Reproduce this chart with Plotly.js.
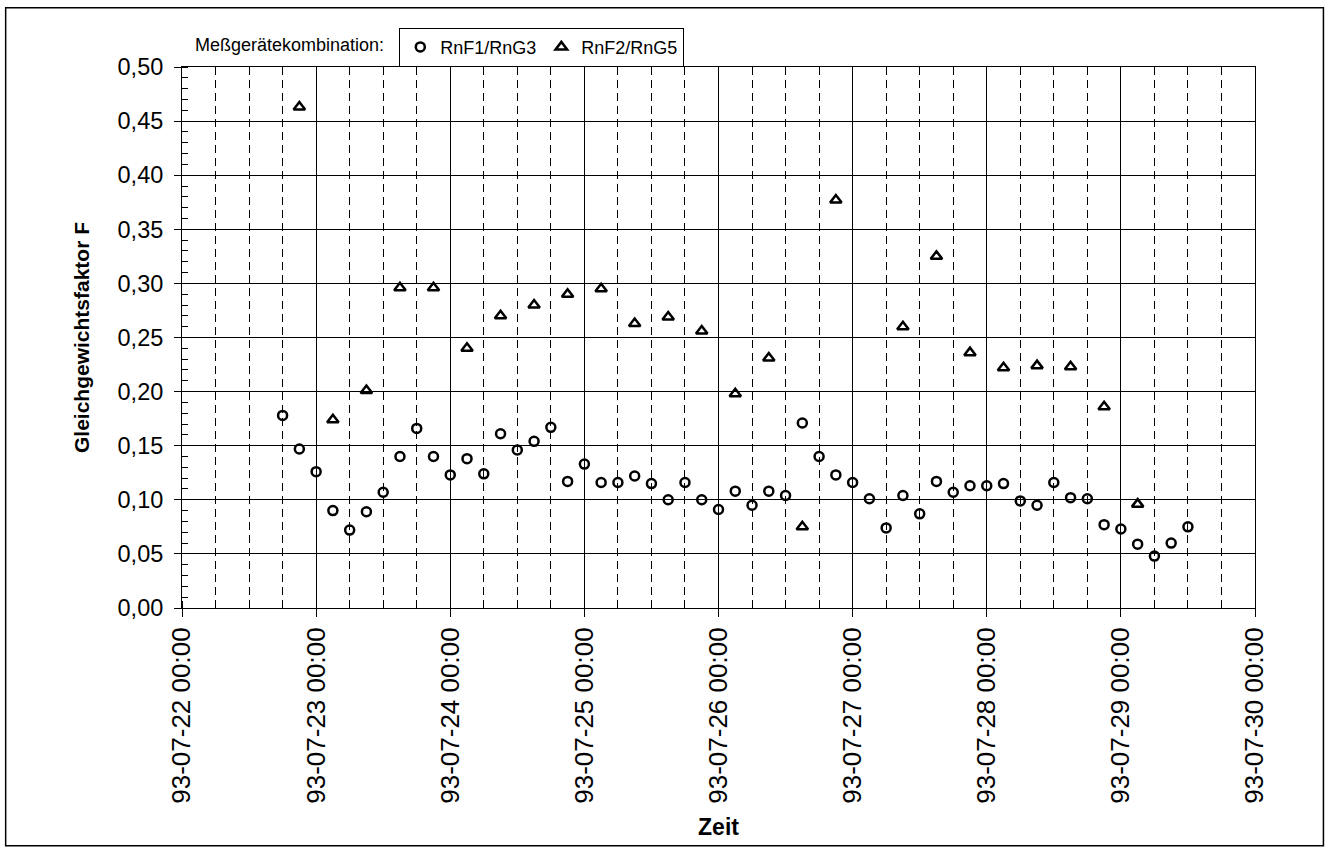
<!DOCTYPE html>
<html>
<head>
<meta charset="utf-8">
<script src="https://cdn.plot.ly/plotly-3.0.1.min.js"></script>
<style>
  html, body { margin: 0; padding: 0; background: #ffffff; }
  #chart { width: 1330px; height: 847px; }
</style>
</head>
<body>
<div id="chart"></div>
<script>
// --- Data -------------------------------------------------------------
// RnF1/RnG3: every 3 hours, 93-07-22 18:00 .. 93-07-29 12:00
const timesA = [
  '1993-07-22 18:00','1993-07-22 21:00',
  '1993-07-23 00:00','1993-07-23 03:00','1993-07-23 06:00','1993-07-23 09:00',
  '1993-07-23 12:00','1993-07-23 15:00','1993-07-23 18:00','1993-07-23 21:00',
  '1993-07-24 00:00','1993-07-24 03:00','1993-07-24 06:00','1993-07-24 09:00',
  '1993-07-24 12:00','1993-07-24 15:00','1993-07-24 18:00','1993-07-24 21:00',
  '1993-07-25 00:00','1993-07-25 03:00','1993-07-25 06:00','1993-07-25 09:00',
  '1993-07-25 12:00','1993-07-25 15:00','1993-07-25 18:00','1993-07-25 21:00',
  '1993-07-26 00:00','1993-07-26 03:00','1993-07-26 06:00','1993-07-26 09:00',
  '1993-07-26 12:00','1993-07-26 15:00','1993-07-26 18:00','1993-07-26 21:00',
  '1993-07-27 00:00','1993-07-27 03:00','1993-07-27 06:00','1993-07-27 09:00',
  '1993-07-27 12:00','1993-07-27 15:00','1993-07-27 18:00','1993-07-27 21:00',
  '1993-07-28 00:00','1993-07-28 03:00','1993-07-28 06:00','1993-07-28 09:00',
  '1993-07-28 12:00','1993-07-28 15:00','1993-07-28 18:00','1993-07-28 21:00',
  '1993-07-29 00:00','1993-07-29 03:00','1993-07-29 06:00','1993-07-29 09:00',
  '1993-07-29 12:00'
];
const valuesA = [
  0.178, 0.147,
  0.126, 0.090, 0.072, 0.089, 0.107, 0.140, 0.166, 0.140,
  0.123, 0.138, 0.124, 0.161, 0.146, 0.154, 0.167, 0.117,
  0.133, 0.116, 0.116, 0.122, 0.115, 0.100, 0.116, 0.100,
  0.091, 0.108, 0.095, 0.108, 0.104, 0.171, 0.140, 0.123,
  0.116, 0.101, 0.074, 0.104, 0.087, 0.117, 0.107, 0.113,
  0.113, 0.115, 0.099, 0.095, 0.116, 0.102, 0.101, 0.077,
  0.073, 0.059, 0.048, 0.060, 0.075
];

// RnF2/RnG5: every 6 hours (03/09/15/21 h), 93-07-22 21:00 .. 93-07-29 03:00
const timesB = [
  '1993-07-22 21:00',
  '1993-07-23 03:00','1993-07-23 09:00','1993-07-23 15:00','1993-07-23 21:00',
  '1993-07-24 03:00','1993-07-24 09:00','1993-07-24 15:00','1993-07-24 21:00',
  '1993-07-25 03:00','1993-07-25 09:00','1993-07-25 15:00','1993-07-25 21:00',
  '1993-07-26 03:00','1993-07-26 09:00','1993-07-26 15:00','1993-07-26 21:00',
  '1993-07-27 09:00','1993-07-27 15:00','1993-07-27 21:00',
  '1993-07-28 03:00','1993-07-28 09:00','1993-07-28 15:00','1993-07-28 21:00',
  '1993-07-29 03:00'
];
const valuesB = [
  0.463,
  0.174, 0.201, 0.296, 0.296,
  0.240, 0.270, 0.280, 0.290,
  0.295, 0.263, 0.269, 0.256,
  0.198, 0.231, 0.075, 0.377,
  0.260, 0.325, 0.236,
  0.222, 0.224, 0.223, 0.186,
  0.096
];

const seriesNames = ['RnF1/RnG3', 'RnF2/RnG5'];
const legendTitle = 'Meßgerätekombination:';
const xTitle = 'Zeit';
const yTitle = 'Gleichgewichtsfaktor F';
const xRange = ['1993-07-22 00:00', '1993-07-30 00:00'];
const yRange = [0, 0.5];

// --- Layout geometry ----------------------------------------------------
const W = 1330, H = 847;
const L = 181.5, R = 1255.5, T = 67.3, B = 608.3;
const pw = R - L, ph = B - T;
const px = v => (v - L) / pw;
const py = v => (B - v) / ph;

const font = 'Liberation Sans, Arial, sans-serif';

const traces = [
  {
    x: timesA, y: valuesA, name: seriesNames[0],
    type: 'scatter', mode: 'markers',
    marker: { symbol: 'circle-open', size: 9, color: '#000', line: { width: 2.5, color: '#000' } }
  },
  {
    x: timesB, y: valuesB, name: seriesNames[1],
    type: 'scatter', mode: 'markers',
    marker: { symbol: 'triangle-up-open', size: 10, color: '#000', line: { width: 2.5, color: '#000' } }
  }
];

const layout = {
  width: W, height: H,
  margin: { l: L, r: W - R, t: T, b: H - B, pad: 0 },
  paper_bgcolor: '#fff', plot_bgcolor: '#fff',
  separators: ',.',
  showlegend: true,
  font: { family: font, color: '#000', size: 22 },
  xaxis: {
    type: 'date', range: xRange, autorange: false,
    tick0: '1993-07-22', dtick: 86400000,
    tickformat: '%y-%m-%d %H:%M', tickangle: -90,
    tickfont: { family: font, size: 26, color: '#000' },
    ticks: 'outside', ticklen: 8, tickwidth: 1, tickcolor: '#000',
    showline: true, linecolor: '#000', linewidth: 1, mirror: true,
    showgrid: true, gridcolor: '#000', gridwidth: 1,
    zeroline: false,
    minor: {
      dtick: 21600000, tick0: '1993-07-22',
      ticks: 'inside', ticklen: 7, tickcolor: '#000', tickwidth: 1,
      showgrid: true, gridcolor: '#000', gridwidth: 1, griddash: '8px,5px'
    },
    title: { text: '<b>' + xTitle + '</b>', font: { family: font, size: 23, color: '#000' }, standoff: 16 },
    automargin: false
  },
  yaxis: {
    range: yRange, autorange: false,
    dtick: 0.05, tick0: 0, tickformat: '.2f',
    tickfont: { family: font, size: 23.5, color: '#000' },
    ticks: 'outside', ticklen: 7, tickwidth: 1, tickcolor: '#000',
    ticklabelstandoff: 6,
    showline: true, linecolor: '#000', linewidth: 1, mirror: true,
    showgrid: true, gridcolor: '#000', gridwidth: 1,
    zeroline: false,
    minor: { dtick: 0.01, tick0: 0, ticks: 'inside', ticklen: 6, tickcolor: '#000', tickwidth: 1, showgrid: false },
    title: { text: '<b>' + yTitle + '</b>', font: { family: font, size: 21, color: '#000' }, standoff: 22 },
    automargin: false
  },
  legend: {
    orientation: 'h',
    x: px(399), y: py(28), xanchor: 'left', yanchor: 'top',
    bgcolor: '#fff', bordercolor: '#000', borderwidth: 1,
    font: { family: font, size: 18, color: '#000' },
    itemwidth: 30, tracegroupgap: 0
  },
  annotations: [
    {
      text: legendTitle, xref: 'paper', yref: 'paper',
      x: px(386), y: py(45), xanchor: 'right', yanchor: 'middle',
      showarrow: false, font: { family: font, size: 18, color: '#000' }
    }
  ],
  shapes: [
    {
      type: 'rect', xref: 'paper', yref: 'paper',
      x0: px(5), x1: px(1324), y0: py(846), y1: py(8),
      line: { color: '#000', width: 1.5 }, fillcolor: 'rgba(0,0,0,0)', layer: 'below'
    }
  ]
};

Plotly.newPlot('chart', traces, layout, { staticPlot: true, displayModeBar: false });
</script>
</body>
</html>
